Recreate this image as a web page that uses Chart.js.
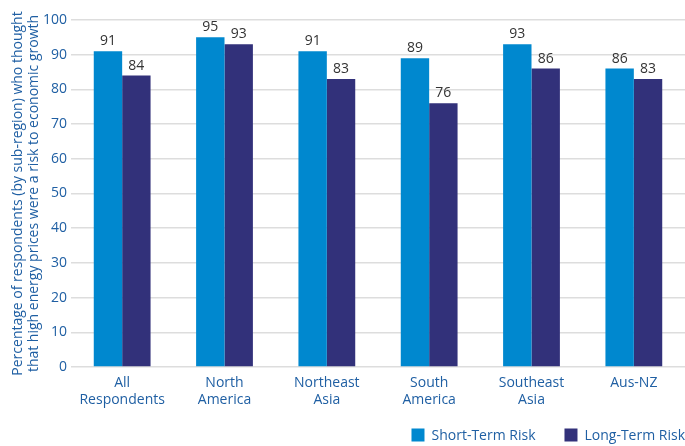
<!DOCTYPE html>
<html>
<head>
<meta charset="utf-8">
<script src="https://cdn.jsdelivr.net/npm/chart.js@4/dist/chart.umd.min.js"></script>
<style>
  html, body { margin: 0; padding: 0; background: #fff; }
  #wrap { width: 685px; height: 446px; position: relative; }
</style>
</head>
<body>
<div id="wrap"><canvas id="c" width="685" height="446"></canvas></div>
<script>
const categories = [["All", "Respondents"], ["North", "America"], ["Northeast", "Asia"], ["South", "America"], ["Southeast", "Asia"], ["Aus-NZ"]];
const shortTermRisk = [91, 95, 91, 89, 93, 86];
const longTermRisk = [84, 93, 83, 76, 86, 83];
const yTicks = [0, 10, 20, 30, 40, 50, 60, 70, 80, 90, 100];

const FONT = "'Open Sans', 'Noto Sans', sans-serif";
const BLUE_TEXT = '#1f5fa3';

// Value labels above each bar
const valueLabels = {
  id: 'valueLabels',
  afterDatasetsDraw(chart) {
    const ctx = chart.ctx;
    ctx.save();
    ctx.font = '14px ' + FONT;
    ctx.fillStyle = '#333333';
    ctx.textAlign = 'center';
    ctx.textBaseline = 'bottom';
    chart.data.datasets.forEach((ds, di) => {
      chart.getDatasetMeta(di).data.forEach((bar, i) => {
        ctx.fillText(String(ds.data[i]), bar.x, bar.y - 3);
      });
    });
    ctx.restore();
  }
};

// Legend in the bottom-right corner, square swatches followed by series names
const cornerLegend = {
  id: 'cornerLegend',
  afterDraw(chart) {
    const ctx = chart.ctx;
    const box = 13, gapText = 7, gapItem = 29;
    const cy = chart.height - 11;
    ctx.save();
    ctx.font = '14px ' + FONT;
    ctx.textBaseline = 'middle';
    ctx.textAlign = 'left';
    const items = chart.data.datasets.map(ds => ({ text: ds.label, color: ds.backgroundColor, w: ctx.measureText(ds.label).width }));
    let total = 0;
    items.forEach((it, i) => { total += box + gapText + it.w + (i ? gapItem : 0); });
    let x = chart.width - total;
    items.forEach(it => {
      ctx.fillStyle = it.color;
      ctx.fillRect(x, cy - box / 2, box, box);
      ctx.fillStyle = BLUE_TEXT;
      ctx.fillText(it.text, x + box + gapText, cy + 1);
      x += box + gapText + it.w + gapItem;
    });
    ctx.restore();
  }
};

new Chart(document.getElementById('c'), {
  type: 'bar',
  data: {
    labels: categories,
    datasets: [
      { label: 'Short-Term Risk', data: shortTermRisk, backgroundColor: '#0088cf' },
      { label: 'Long-Term Risk', data: longTermRisk, backgroundColor: '#32317a' }
    ]
  },
  options: {
    responsive: false,
    animation: false,
    layout: { padding: { top: 20, right: 0, left: 0, bottom: 0 } },
    datasets: { bar: { categoryPercentage: 0.555, barPercentage: 1.0 } },
    plugins: {
      legend: { display: false },
      tooltip: { enabled: false }
    },
    scales: {
      x: {
        grid: { display: false },
        border: { display: false },
        ticks: {
          color: BLUE_TEXT,
          font: { family: FONT, size: 14, lineHeight: 1.2 },
          maxRotation: 0,
          padding: 0
        },
        afterFit(scale) { scale.height = 79; }
      },
      y: {
        min: 0,
        max: 100,
        afterBuildTicks(scale) { scale.ticks = yTicks.map(v => ({ value: v })); },
        grid: { color: '#dddddd', lineWidth: 1.5, drawTicks: false },
        border: { display: false },
        ticks: {
          color: BLUE_TEXT,
          font: { family: FONT, size: 14 },
          padding: 4
        },
        title: {
          display: true,
          text: ['Percentage of respondents (by sub-region) who thought', 'that high energy prices were a risk to economic growth'],
          color: BLUE_TEXT,
          font: { family: FONT, size: 14, lineHeight: 1.15 },
          padding: { top: 10, bottom: 4 }
        },
        afterFit(scale) { scale.width = 71; }
      }
    }
  },
  plugins: [valueLabels, cornerLegend]
});
</script>
</body>
</html>
